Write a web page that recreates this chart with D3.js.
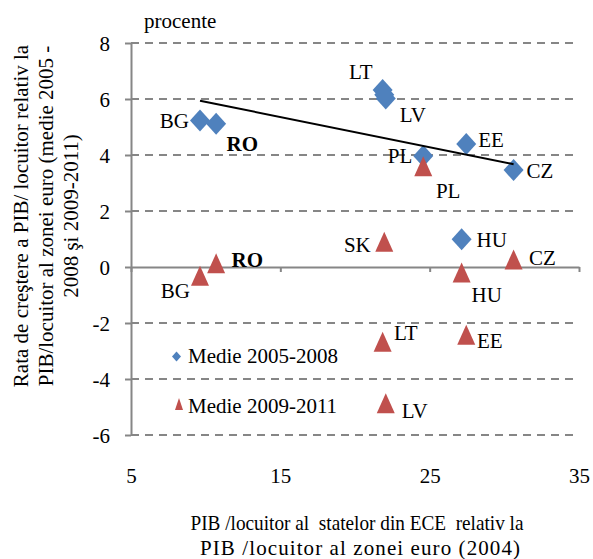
<!DOCTYPE html>
<html>
<head>
<meta charset="utf-8">
<script src="https://cdn.jsdelivr.net/npm/d3@7/dist/d3.min.js"></script>
<style>
  html, body { margin: 0; padding: 0; background: #ffffff; }
  svg { display: block; }
  text { font-family: "Liberation Serif", "Times New Roman", serif; fill: #000; }
</style>
</head>
<body>
<svg id="chart" width="593" height="559"></svg>
<script>
// GDP per capita of CEE states relative to the euro area, 2004 (%)
const countries = ["BG", "RO", "LT", "LV", "SK", "EE", "PL", "CZ", "HU"];
const gdpRel2004 = [9.62, 10.70, 21.85, 22.06, 21.96, 27.45, 24.57, 30.62, 27.14];

// Growth of relative GDP per capita, average 2005-2008
const growth0508 = [5.23, 5.12, 6.32, 6.02, 6.15, 4.39, 3.96, 3.46, 0.99];
// Growth of relative GDP per capita, average 2009-2011
const growth0911 = [-0.31, 0.13, -2.67, -4.87, 0.90, -2.42, 3.60, 0.27, -0.20];

const seriesNames = ["Medie 2005-2008", "Medie 2009-2011"];
const xTicks = [5, 15, 25, 35];
const yTicks = [-6, -4, -2, 0, 2, 4, 6, 8];

// Label placement (pixel offsets from the marker centre, text anchor)
const labels0508 = {
  BG: [-11, 7.5, "end"], RO: [10.5, 27.5, "start"], LT: [-10, -11.5, "end"],
  LV: [14, 23.5, "start"], EE: [12, 2.7, "start"], PL: [-11, 7.2, "end"],
  CZ: [13, 8, "start"], HU: [15, 7.4, "start"]
};
const labels0911 = {
  BG: [-10, 22.6, "end"], RO: [15.5, 3.4, "start"], SK: [-13.5, 10, "end"],
  PL: [12.7, 31.7, "start"], HU: [10, 29.2, "start"], CZ: [15.4, 5.5, "start"],
  LT: [11.3, -1.7, "start"], EE: [10.8, 13.6, "start"], LV: [15.9, 14.7, "start"]
};

const blue = "#4F81BD", red = "#C0504D", gridGrey = "#868686";
const fontFamily = "'Liberation Serif', 'Times New Roman', serif";
const svg = d3.select("#chart");

const x = d3.scaleLinear().domain([5, 35]).range([131, 579]);
const y = d3.scaleLinear().domain([-6, 8]).range([435, 43]);

// Dashed horizontal gridlines
svg.append("g")
  .selectAll("line")
  .data(yTicks.filter(v => v !== 0))
  .join("line")
  .attr("x1", x(5)).attr("x2", x(35))
  .attr("y1", d => y(d)).attr("y2", d => y(d))
  .attr("stroke", gridGrey).attr("stroke-width", 2)
  .attr("stroke-dasharray", "8,6");

// Vertical axis (plain hyphen for negative values)
const yAxis = svg.append("g")
  .attr("transform", `translate(${x(5)},0)`)
  .call(d3.axisLeft(y).tickValues(yTicks).tickSize(6).tickSizeOuter(0).tickPadding(15)
    .tickFormat(d => String(d)));
yAxis.select(".domain").attr("stroke", gridGrey).attr("stroke-width", 2);
yAxis.selectAll(".tick line").attr("stroke", gridGrey).attr("stroke-width", 2);
yAxis.selectAll(".tick text")
  .attr("font-family", fontFamily)
  .attr("font-size", 21).attr("fill", "#000").attr("dy", "0.34em");

// Horizontal axis line through zero
const xAxis = svg.append("g")
  .attr("transform", `translate(0,${y(0)})`)
  .call(d3.axisBottom(x).tickValues(xTicks).tickSize(5).tickSizeOuter(0).tickFormat(""));
xAxis.select(".domain").attr("stroke", gridGrey).attr("stroke-width", 2);
xAxis.selectAll(".tick line").attr("stroke", gridGrey).attr("stroke-width", 2);

// Tick labels for the horizontal axis, set below the plot
const xLabels = svg.append("g")
  .attr("transform", `translate(0,${y(-6)})`)
  .call(d3.axisBottom(x).tickValues(xTicks).tickSize(0).tickPadding(0));
xLabels.select(".domain").remove();
xLabels.selectAll(".tick text")
  .attr("font-family", fontFamily)
  .attr("font-size", 21).attr("fill", "#000")
  .attr("dy", null).attr("y", 48);

// Unit label
svg.append("text").attr("x", 144).attr("y", 28)
  .attr("font-size", 21).text("procente");

// Marker shapes
const diamond = "M0,-11L10,0L0,11L-10,0Z";
const triangle = "M0,-10L9,10L-9,10Z";

const pts0508 = countries.map((c, i) => ({ c, x: gdpRel2004[i], y: growth0508[i] }));
const pts0911 = countries.map((c, i) => ({ c, x: gdpRel2004[i], y: growth0911[i] }));

svg.append("g").selectAll("path")
  .data(pts0508).join("path")
  .attr("d", diamond)
  .attr("transform", d => `translate(${x(d.x)},${y(d.y)})`)
  .attr("fill", blue);

// Linear trend of the 2005-2008 series (least squares)
const mx = d3.mean(pts0508, d => d.x), my = d3.mean(pts0508, d => d.y);
const slope = d3.sum(pts0508, d => (d.x - mx) * (d.y - my)) / d3.sum(pts0508, d => (d.x - mx) ** 2);
const xExt = d3.extent(pts0508, d => d.x);
svg.append("line")
  .attr("x1", x(xExt[0])).attr("y1", y(my + slope * (xExt[0] - mx)))
  .attr("x2", x(xExt[1])).attr("y2", y(my + slope * (xExt[1] - mx)))
  .attr("stroke", "#000").attr("stroke-width", 2);

svg.append("g").selectAll("path")
  .data(pts0911).join("path")
  .attr("d", triangle)
  .attr("transform", d => `translate(${x(d.x)},${y(d.y)})`)
  .attr("fill", red);

// Country labels
function drawLabels(points, placement) {
  svg.append("g").selectAll("text")
    .data(points.filter(d => placement[d.c]))
    .join("text")
    .attr("x", d => x(d.x) + placement[d.c][0])
    .attr("y", d => y(d.y) + placement[d.c][1])
    .attr("text-anchor", d => placement[d.c][2])
    .attr("font-size", 21)
    .attr("font-weight", d => d.c === "RO" ? "bold" : "normal")
    .text(d => d.c);
}
drawLabels(pts0508, labels0508);
drawLabels(pts0911, labels0911);

// Legend
const legend = svg.append("g");
legend.append("path").attr("d", "M0,-5L4.5,0L0,5L-4.5,0Z")
  .attr("transform", "translate(176.5,356.5)").attr("fill", blue);
legend.append("path").attr("d", "M0,-6L4,6L-4,6Z")
  .attr("transform", "translate(179,404)").attr("fill", red);
legend.append("text").attr("x", 188).attr("y", 363).attr("font-size", 21).text(seriesNames[0]);
legend.append("text").attr("x", 188).attr("y", 413).attr("font-size", 21).text(seriesNames[1]);

// Axis titles
const yTitle = svg.append("text")
  .attr("transform", "translate(0,216) rotate(-90)")
  .attr("text-anchor", "middle").attr("font-size", 21);
[["Rata de creştere a PIB/ locuitor relativ la", 28],
 ["PIB/locuitor al zonei euro (medie 2005 -", 53],
 ["2008 şi 2009-2011)", 78]].forEach(([t, off]) => {
  yTitle.append("tspan").attr("x", 0).attr("y", off).text(t);
});

const xTitle = svg.append("text")
  .attr("text-anchor", "middle").attr("font-size", 21)
  .style("white-space", "pre");
xTitle.append("tspan").attr("x", 357).attr("y", 530)
  .attr("textLength", 333).attr("lengthAdjust", "spacingAndGlyphs")
  .text("PIB /locuitor al  statelor din ECE  relativ la");
xTitle.append("tspan").attr("x", 360).attr("y", 555)
  .attr("textLength", 320).attr("lengthAdjust", "spacing")
  .text("PIB /locuitor al zonei euro (2004)");
</script>
</body>
</html>
